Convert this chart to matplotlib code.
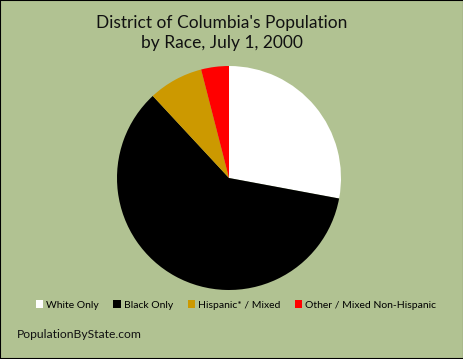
import matplotlib.pyplot as plt
from matplotlib.patches import Patch, Rectangle

# DC population by race, 2000 (percent)
labels = ['White Only', 'Black Only', 'Hispanic* / Mixed', 'Other / Mixed Non-Hispanic']
shares = [27.9, 60.1, 7.9, 4.0]
colors = ['#FFFFFF', '#000000', '#CC9900', '#FF0000']

bg = '#B1C292'
plt.rcParams['font.family'] = ['Lato', 'DejaVu Sans']

W, H = 464, 359
fig = plt.figure(figsize=(W / 100, H / 100), dpi=100, facecolor=bg)

# pie centred at (229, 178) px, radius 112 px
cx, cy, r = 229, 178, 112
ax = fig.add_axes([(cx - r) / W, (H - cy - r) / H, 2 * r / W, 2 * r / H])
ax.pie(shares, colors=colors, startangle=90, counterclock=False, radius=1,
       wedgeprops=dict(linewidth=0))
ax.set_xlim(-1, 1)
ax.set_ylim(-1, 1)
ax.set_aspect('equal')
ax.axis('off')

fig.text(222 / W, 1 - 33 / H, "District of Columbia's Population\nby Race, July 1, 2000",
         ha='center', va='center', fontsize=12.5, linespacing=1.35, color='#111111')

handles = [Patch(facecolor=c, edgecolor='none') for c in colors]
fig.legend(handles, labels, loc='center', bbox_to_anchor=(236 / W, 1 - 305 / H),
           ncol=4, frameon=False, fontsize=7.5, handlelength=0.7, handleheight=0.7,
           handletextpad=0.3, columnspacing=1.4, borderaxespad=0)

fig.text(17 / W, 1 - 335 / H, 'PopulationByState.com', ha='left', va='center',
         fontsize=8.7, color='#111111')

# black border round the chart
fig.patches.append(Rectangle((0, 0), 1, 1, transform=fig.transFigure, fill=False,
                             edgecolor='black', linewidth=1.5))

fig.savefig('out.png', dpi=100, facecolor=bg)
